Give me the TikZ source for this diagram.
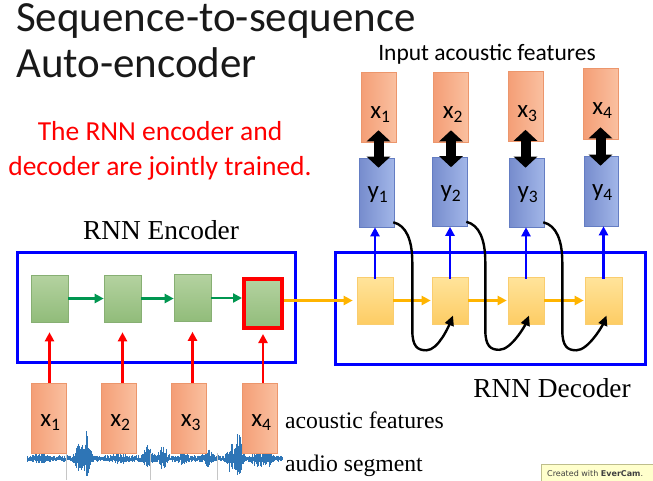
\documentclass[tikz,border=0pt]{standalone}
\usepackage{fontspec}
\setmainfont{Liberation Serif}
\newfontfamily\carlito{Carlito}
\newfontfamily\dejavu{DejaVu Sans}
\usetikzlibrary{arrows.meta,calc}
\definecolor{xL}{RGB}{244,158,118}
\definecolor{xR}{RGB}{250,192,160}
\definecolor{xB}{RGB}{236,150,108}
\definecolor{yL}{RGB}{118,140,205}
\definecolor{yR}{RGB}{162,182,232}
\definecolor{yB}{RGB}{100,125,195}
\definecolor{eT}{RGB}{180,210,160}
\definecolor{eBo}{RGB}{145,188,122}
\definecolor{eB}{RGB}{135,175,115}
\definecolor{dT}{RGB}{255,228,155}
\definecolor{dBo}{RGB}{253,204,100}
\definecolor{dB}{RGB}{250,205,110}
\definecolor{arrGreen}{RGB}{0,150,80}
\definecolor{arrYellow}{RGB}{255,180,0}
\definecolor{waveBlue}{RGB}{46,117,182}
\definecolor{wmFill}{RGB}{255,255,204}
\definecolor{wmDraw}{RGB}{190,190,140}
\definecolor{titleCol}{RGB}{25,25,25}
\begin{document}
\begin{tikzpicture}[x=1pt,y=-1pt,
  boxbase/.style={inner sep=0pt, line width=0.6pt},
  xbox/.style={boxbase, draw=xB, left color=xL, right color=xR, minimum width=35pt, minimum height=70pt, text depth=0pt, text height=22.6pt, execute at begin node={\hspace*{4pt}}, font=\carlito\fontsize{25}{25}\selectfont},
  featbox/.style={xbox, text height=17.6pt},
  ybox/.style={boxbase, draw=yB, left color=yL, right color=yR, minimum width=35pt, minimum height=69pt, text depth=0pt, execute at begin node={\hspace*{3pt}}, font=\carlito\fontsize{25}{25}\selectfont},
  ebox/.style={boxbase, draw=eB, top color=eT, bottom color=eBo, minimum width=37pt, minimum height=47pt},
  dbox/.style={boxbase, draw=dB, top color=dT, bottom color=dBo, minimum width=36pt, minimum height=47pt},
  rnnbox/.style={draw=blue, line width=3pt, inner sep=0pt},
  tipsmall/.style={-{Triangle[width=9pt,length=9pt]}},
  redarr/.style={draw=red, line width=2.8pt, tipsmall},
  greenarr/.style={draw=arrGreen, line width=2.8pt, tipsmall},
  yelarr/.style={draw=arrYellow, line width=2.6pt, tipsmall},
  bluearr/.style={draw=blue, line width=2.8pt, tipsmall},
  curvearr/.style={draw=black, line width=2.4pt, -{Triangle[width=9pt,length=10pt]}},
  dblarr/.style={draw=black, line width=10pt, {Triangle[width=23pt,length=11pt]}-{Triangle[width=23pt,length=11pt]}},
  serif/.style={font=\fontsize{27.4}{27.4}\selectfont},
  serifsmall/.style={font=\fontsize{23.7}{23.7}\selectfont},
  wave/.style={draw=waveBlue, line width=0.65pt}
]
\useasboundingbox (0,0) rectangle (653,480);

% titles
\node[anchor=base west, inner sep=0pt, text=titleCol, font=\carlito\fontsize{43}{43}\selectfont] (t1) at (16,31) {Sequence-to-sequence};
\node[anchor=base west, inner sep=0pt, text=titleCol, font=\carlito\fontsize{43}{43}\selectfont] (t2) at (16,77) {Auto-encoder};
\node[anchor=base, inner sep=0pt, text=red, font=\carlito\fontsize{27.5}{27.5}\selectfont] (r1) at (160,140) {The RNN encoder and};
\node[anchor=base, inner sep=0pt, text=red, font=\carlito\fontsize{27.5}{27.5}\selectfont] (r2) at (160,175) {decoder are jointly trained.};
\node[anchor=base, inner sep=0pt, font=\carlito\fontsize{23.5}{23.5}\selectfont] (inp) at (487,60) {Input acoustic features};

% waveform
\pgfmathsetseed{11}
\foreach \i in {0,...,420} {
  \pgfmathsetmacro{\xx}{27+\i*0.607}
  \pgfmathsetmacro{\env}{3.8
    +24*exp(-min(((\xx-86)/4)^2,9))
    +15*exp(-min(((\xx-78)/3)^2,9))
    +11*exp(-min(((\xx-148)/4)^2,9))
    +10*exp(-min(((\xx-163)/5)^2,9))
    +6*exp(-min(((\xx-183)/4)^2,9))
    +8*exp(-min(((\xx-208)/4)^2,9))
    +24*exp(-min(((\xx-238)/4)^2,9))
    +14*exp(-min(((\xx-230)/3)^2,9))
    +10*exp(-min(((\xx-258)/5)^2,9))
    +8*exp(-min(((\xx-268)/4)^2,9))
    +6*exp(-min(((\xx-40)/5)^2,9))
    +5*exp(-min(((\xx-120)/6)^2,9))}
  \pgfmathsetmacro{\up}{\env*(0.2+0.8*rnd)}
  \pgfmathsetmacro{\dn}{0.75*\env*(0.2+0.8*rnd)}
  \draw[wave] (\xx,459-\up) -- (\xx,459+\dn);
}
\foreach \gx in {66,150,217} {
  \draw[gray!45, line width=0.6pt] (\gx,453) -- (\gx,480);
}

% encoder
\node[rnnbox, minimum width=278pt, minimum height=110pt] (enc) at (156,307) {};
\node[anchor=base, inner sep=0pt, serif] (enclab) at (161,239) {RNN Encoder};
\node[ebox] (E1) at (49.5,298.5) {};
\node[ebox] (E2) at (122.5,298.5) {};
\node[ebox] (E3) at (192.5,298) {};
\node[ebox, draw=red, line width=4pt, minimum width=38pt, minimum height=49pt] (E4) at (263,303.5) {};

% bottom features
\node[featbox] (B1) at (48.5,418) {x\textsubscript{1}};
\node[featbox] (B2) at (118.5,418) {x\textsubscript{2}};
\node[featbox] (B3) at (189,418) {x\textsubscript{3}};
\node[featbox] (B4) at (259.5,418) {x\textsubscript{4}};
\node[anchor=base west, inner sep=0pt, serifsmall] (aclab) at (285,428) {acoustic features};
\node[anchor=base west, inner sep=0pt, serifsmall] (aulab) at (285,471) {audio segment};

% decoder
\node[rnnbox, minimum width=310pt, minimum height=112pt] (dec) at (490,308) {};
\node[anchor=base, inner sep=0pt, serif] (declab) at (552,397) {RNN Decoder};
\node[dbox] (D1) at (375,300.5) {};
\node[dbox] (D2) at (450,300.5) {};
\node[dbox] (D3) at (526,300.5) {};
\node[dbox, minimum width=37pt] (D4) at (603.5,300.5) {};

% outputs and targets
\node[ybox] (Y1) at (376.5,192.5) {y\textsubscript{1}};
\node[ybox] (Y2) at (449.5,192) {y\textsubscript{2}};
\node[ybox] (Y3) at (526.5,192.5) {y\textsubscript{3}};
\node[ybox, minimum width=34pt, minimum height=70pt] (Y4) at (601,191) {y\textsubscript{4}};
\node[xbox] (X1) at (378.5,107) {x\textsubscript{1}};
\node[xbox] (X2) at (451,107) {x\textsubscript{2}};
\node[xbox] (X3) at (525.5,106.5) {x\textsubscript{3}};
\node[xbox, minimum height=71pt] (X4) at (600.5,103.5) {x\textsubscript{4}};

% double arrows
\foreach \k in {1,2,3,4} {
  \draw[dblarr] ($(X\k.south)+(0,-12)$) -- ($(X\k.south |- Y\k.north)+(0,10)$);
}

% red input arrows
\foreach \k in {1,2,3} {
  \draw[redarr] (E\k.south |- B\k.north) -- ($(E\k.south)+(0,10)$);
}
\draw[redarr] (E4.south |- B4.north) -- ($(E4.south)+(0,4)$);

% green recurrent arrows
\draw[greenarr] (E1.east) -- (E2.west);
\draw[greenarr] (E2.east) -- (E2.east -| E3.west);
\draw[greenarr] (E3.east) -- (E3.east -| E4.west);

% yellow arrows
\draw[yelarr, shorten >=4pt] (D1.west -| E4.east) -- (D1.west);
\draw[yelarr, shorten >=1pt] (D1.east) -- (D2.west);
\draw[yelarr, shorten >=1pt] (D2.east) -- (D3.west);
\draw[yelarr, shorten >=1pt] (D3.east) -- (D4.west);

% blue output arrows
\foreach \k in {1,2,3,4} {
  \draw[bluearr] ($(D\k.north)+(0,2)$) -- (D\k.north |- Y\k.south);
}

% feedback curves
\foreach \a/\b in {1/2,2/3,3/4} {
  \draw[curvearr] ($(Y\a.south east)+(-1,-5)$) .. controls +(13,3) and +(0,-22) .. ++(19,40)
     -- ++(0,68) .. controls +(0,16) and +(-9,0) .. ++(14,20)
     .. controls +(12,0) and +(-4,10) .. ($(D\b.center)+(3,15)$);
}

% watermark
\node[draw=wmDraw, fill=wmFill, line width=0.5pt, anchor=north west, inner sep=0pt, minimum width=130pt, minimum height=26pt] (wm) at (541,464) {};
\node[anchor=base west, inner sep=0pt, text=black!75, font=\dejavu\fontsize{8}{8}\selectfont] (wmt) at (547,476) {Created with \textbf{EverCam}.};
\end{tikzpicture}
\end{document}
